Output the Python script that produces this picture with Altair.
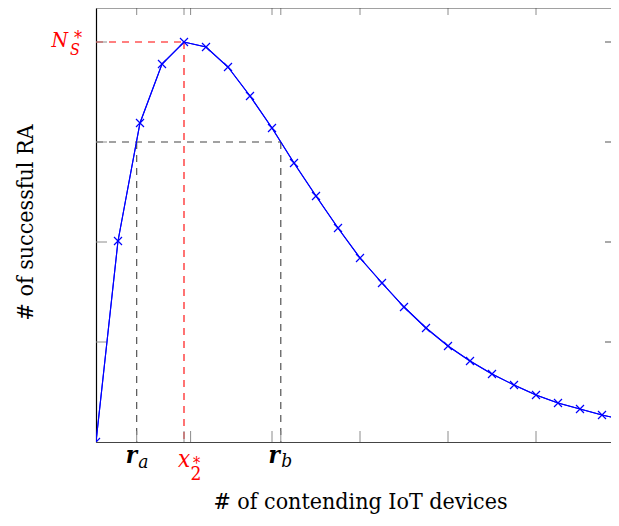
import altair as alt
import pandas as pd

# ---- data ----
x_vals = list(range(25))
y_vals = [0.00, 2.01, 3.19, 3.78, 4.00, 3.95, 3.75, 3.46, 3.14, 2.79, 2.46,
          2.14, 1.84, 1.59, 1.35, 1.14, 0.96, 0.81, 0.68, 0.57, 0.47, 0.39,
          0.33, 0.27, 0.22]

x_major_ticks = [4, 8, 12, 16, 20]
y_major_ticks = [1, 2, 3, 4]
r_a = 1.85          # left crossing of the threshold level
r_b = 8.4           # right crossing of the threshold level
x_peak = 4          # position of the maximum
x2_star = 4.3       # tick labelled x2*
y_peak = 4.0        # N_S*
y_level = 3.0       # threshold level

x_title = "# of contending IoT devices"
y_title = "# of successful RA"

W, H = 515, 434
X_MAX = W / 22.0
Y_MAX = 4.34
FONT = "DejaVu Serif Condensed"
BLUE = "#0000ff"
RED = "#ff0000"
DARK = "#444444"
TICK = "#8c8c8c"

curve = pd.DataFrame({"x": x_vals, "y": y_vals})
xs = alt.Scale(domain=[0, X_MAX], nice=False, zero=False)
ys = alt.Scale(domain=[0, Y_MAX], nice=False, zero=False)

x_axis = alt.Axis(orient="bottom", domain=True, domainColor=DARK, domainWidth=1.2,
                  ticks=False, labels=False, grid=False, title=x_title,
                  titleFont=FONT, titleFontSize=23, titleFontWeight="normal",
                  titleColor="black", titleBaseline="alphabetic", titleY=66, titleX=264)
y_axis = alt.Axis(orient="left", domain=True, domainColor="black", domainWidth=1.2,
                  ticks=False, labels=False, grid=False, title=y_title,
                  titleFont=FONT, titleFontSize=23, titleFontWeight="normal",
                  titleColor="black", titleBaseline="alphabetic", titleX=-64, titleY=214)

line = alt.Chart(curve).mark_line(color=BLUE, strokeWidth=1.1, clip=True).encode(
    x=alt.X("x:Q", scale=xs, axis=x_axis),
    y=alt.Y("y:Q", scale=ys, axis=y_axis),
)
points = alt.Chart(curve).mark_point(
    shape="M-1,-1L1,1M-1,1L1,-1", size=64, filled=False, color=BLUE,
    strokeWidth=1.2, opacity=1, clip=True
).encode(x=alt.X("x:Q", scale=xs), y=alt.Y("y:Q", scale=ys))

red_guides = pd.DataFrame({
    "x": [0, x_peak], "x2": [x_peak, x_peak],
    "y": [y_peak, y_peak], "y2": [y_peak, 0]})
black_guides = pd.DataFrame({
    "x": [0, r_a, r_b], "x2": [r_b, r_a, r_b],
    "y": [y_level, y_level, y_level], "y2": [y_level, 0, 0]})

def guides(df, color):
    return alt.Chart(df).mark_rule(color=color, strokeWidth=1.1, strokeDash=[7, 6]).encode(
        x=alt.X("x:Q", scale=xs), x2="x2:Q",
        y=alt.Y("y:Q", scale=ys), y2="y2:Q")

xt = pd.DataFrame({"t": x_major_ticks + [r_a, x2_star, r_b]})
yt = pd.DataFrame({"t": y_major_ticks})
ticks_bottom = alt.Chart(xt).mark_rule(color=TICK, strokeWidth=1).encode(
    x=alt.X("t:Q", scale=xs), y=alt.value(H), y2=alt.value(H - 11))
ticks_top = alt.Chart(xt).mark_rule(color=TICK, strokeWidth=1).encode(
    x=alt.X("t:Q", scale=xs), y=alt.value(0), y2=alt.value(7))
ticks_left = alt.Chart(yt).mark_rule(color=TICK, strokeWidth=1).encode(
    y=alt.Y("t:Q", scale=ys), x=alt.value(0), x2=alt.value(11))
ticks_right = alt.Chart(yt).mark_rule(color=TICK, strokeWidth=1.5).encode(
    y=alt.Y("t:Q", scale=ys), x=alt.value(W - 6), x2=alt.value(W))
top_border = alt.Chart(pd.DataFrame({"a": [0]})).mark_rule(color=DARK, strokeWidth=1.2).encode(
    x=alt.value(0), x2=alt.value(W), y=alt.value(0))

def label(xv, yv, text, color, size, align, dx, dy, italic=True, bold=False):
    df = pd.DataFrame({"x": [xv], "y": [yv], "s": [text]})
    kw = dict(color=color, fontSize=size, font=FONT, align=align, baseline="alphabetic",
              dx=dx, dy=dy)
    if italic:
        kw["fontStyle"] = "italic"
    if bold:
        kw["fontWeight"] = "bold"
    return alt.Chart(df).mark_text(**kw).encode(
        x=alt.X("x:Q", scale=xs), y=alt.Y("y:Q", scale=ys), text="s:N")

labels = [
    label(0, y_peak, "N", RED, 21, "right", -28, 5),
    label(0, y_peak, "S", RED, 16, "left", -26, 13),
    label(0, y_peak, "*", RED, 18, "left", -22, 2, italic=False),
    label(r_a, 0, "r", "black", 24, "right", 0.5, 21, bold=True),
    label(r_a, 0, "a", "black", 19, "left", 1.5, 26),
    label(x2_star, 0, "x", RED, 24, "right", -0.5, 25),
    label(x2_star, 0, "2", RED, 19, "left", 0, 38, italic=False),
    label(x2_star, 0, "*", RED, 16, "left", 2.5, 27, italic=False),
    label(r_b, 0, "r", "black", 24, "right", -1, 21, bold=True),
    label(r_b, 0, "b", "black", 19, "left", 0.5, 25),
]

chart = alt.layer(
    line, guides(red_guides, RED), guides(black_guides, DARK),
    ticks_bottom, ticks_top, ticks_left, ticks_right, top_border,
    line, points, *labels
).properties(
    width=W, height=H,
    autosize=alt.AutoSizeParams(type="none"),
    padding={"left": 88, "top": 0, "right": 0, "bottom": 72},
).configure_view(stroke=None)

chart.save("out.html", embed_options={"renderer": "svg", "actions": False})
